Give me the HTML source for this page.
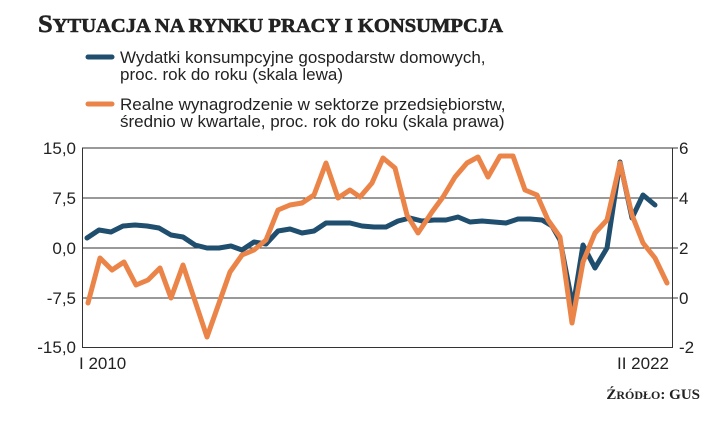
<!DOCTYPE html>
<html><head><meta charset="utf-8"><style>
html,body{margin:0;padding:0;background:#fff;}
body{width:720px;height:423px;overflow:hidden;position:relative;}
</style></head><body>
<svg width="720" height="423" xmlns="http://www.w3.org/2000/svg" style="position:absolute;left:0;top:0">
<text x="38" y="32" font-family="Liberation Serif, serif" font-weight="bold" font-size="25" fill="#222" stroke="#222" stroke-width="0.6" textLength="465" lengthAdjust="spacingAndGlyphs">S<tspan font-size="19.5">YTUACJA NA RYNKU PRACY I KONSUMPCJA</tspan></text>
<line x1="88" y1="57" x2="112" y2="57" stroke="#1f4e6e" stroke-width="5" stroke-linecap="round"/>
<line x1="88" y1="104" x2="112" y2="104" stroke="#eb8448" stroke-width="5" stroke-linecap="round"/>
<g font-family="Liberation Sans Narrow, Liberation Sans, sans-serif" font-size="17" fill="#222">
<text x="120" y="63">Wydatki konsumpcyjne gospodarstw domowych,</text>
<text x="120" y="80">proc. rok do roku (skala lewa)</text>
<text x="120" y="110">Realne wynagrodzenie w sektorze przedsiębiorstw,</text>
<text x="120" y="127">średnio w kwartale, proc. rok do roku (skala prawa)</text>
<text x="76" y="154" text-anchor="end">15,0</text>
<text x="76" y="204" text-anchor="end">7,5</text>
<text x="76" y="254" text-anchor="end">0,0</text>
<text x="76" y="304" text-anchor="end">-7,5</text>
<text x="76" y="353" text-anchor="end">-15,0</text>
<text x="679" y="154">6</text>
<text x="679" y="204">4</text>
<text x="679" y="254">2</text>
<text x="679" y="304">0</text>
<text x="679" y="353">-2</text>
<text x="79" y="369">I 2010</text>
<text x="617" y="369">II 2022</text>
</g>
<text x="700" y="399" text-anchor="end" font-family="Liberation Serif, serif" font-weight="bold" font-size="15" fill="#222">Ź<tspan font-size="12">RÓDŁO</tspan>: GUS</text>
<g stroke="#333" stroke-width="1" fill="none">
<line x1="82" y1="148" x2="678" y2="148"/>
<line x1="82" y1="198" x2="678" y2="198"/>
<line x1="82" y1="248" x2="678" y2="248"/>
<line x1="82" y1="298" x2="678" y2="298"/>
<line x1="82" y1="347.5" x2="672" y2="347.5"/>
<line x1="82.5" y1="148" x2="82.5" y2="348"/>
<line x1="672.5" y1="148" x2="672.5" y2="348"/>
</g>
<polyline fill="none" stroke="#1f4e6e" stroke-width="5" stroke-linejoin="round" stroke-linecap="round" points="87,238 99,230 111,232 123,226 135,225 147,226 159,228 171,235 183,237 195,245 207,248 219,248 231,246 242,250 254,242 266,244 278,231 290,229 302,233 314,231 326,223 338,223 350,223 362,226 374,227 386,227 398,221 410,218 422,221 434,220 446,220 458,217 470,222 482,221 494,222 506,223 518,219 530,219 542,220 552,226 560,240 573,307 583,245 595,268 607,248 620,162 632,218 643,195 655,205"/>
<polyline fill="none" stroke="#eb8448" stroke-width="5" stroke-linejoin="round" stroke-linecap="round" points="88,303 100,258 112,270 124,262 136,285 148,280 160,268 171,298 183,265 207,337 230,272 242,255 254,250 266,240 278,210 290,205 302,203 314,195 326,163 338,198 350,190 360,197 372,183 383,158 395,168 407,215 418,233 432,212 443,197 455,177 467,163 478,157 488,177 500,156 513,156 525,190 537,195 548,220 560,237 572,323 583,262 595,233 607,220 620,163 632,215 643,243 655,258 667,283"/>
</svg>
</body></html>
